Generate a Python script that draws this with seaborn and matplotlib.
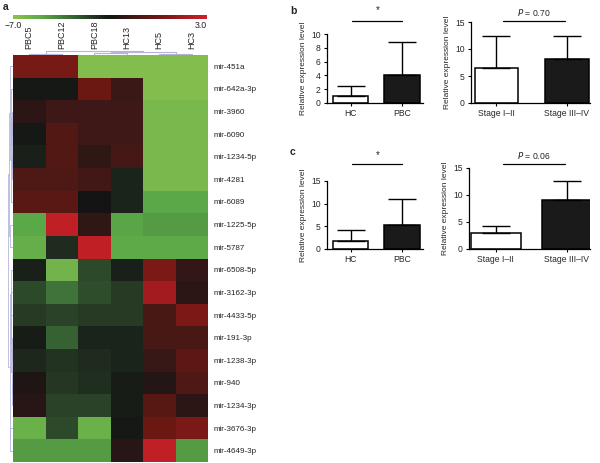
import numpy as np
import pandas as pd
import matplotlib
matplotlib.use("Agg")
import matplotlib.pyplot as plt
import seaborn as sns
from matplotlib.colors import LinearSegmentedColormap
from matplotlib import transforms

sns.set_theme(style="white")
plt.rcParams['font.family'] = ['Liberation Sans', 'DejaVu Sans']

# ---------------- data ----------------
samples = ["PBC5", "PBC12", "PBC18", "HC13", "HC5", "HC3"]
mirnas = ["mir-451a", "mir-642a-3p", "mir-3960", "mir-6090", "mir-1234-5p",
          "mir-4281", "mir-6089", "mir-1225-5p", "mir-5787", "mir-6508-5p",
          "mir-3162-3p", "mir-4433-5p", "mir-191-3p", "mir-1238-3p", "mir-940",
          "mir-1234-3p", "mir-3676-3p", "mir-4649-3p"]
expr = [
    [0.7, 0.7, -6.7, -6.7, -6.7, -6.7],
    [-2.1, -2.1, 0.4, -1.0, -6.7, -6.7],
    [-1.4, -0.9, -0.9, -0.9, -6.4, -6.4],
    [-2.1, -0.3, -0.9, -0.9, -6.4, -6.4],
    [-2.3, -0.3, -1.3, -0.7, -6.4, -6.4],
    [-0.4, -0.4, -0.8, -2.4, -6.4, -6.4],
    [-0.1, -0.1, -2.0, -2.4, -5.5, -5.5],
    [-5.5, 2.6, -1.3, -5.4, -5.2, -5.2],
    [-5.8, -2.6, 2.6, -5.6, -5.6, -5.6],
    [-2.3, -6.2, -3.3, -2.3, 0.8, -1.2],
    [-3.3, -4.2, -3.4, -3.0, 1.8, -1.4],
    [-3.0, -3.2, -3.0, -3.0, -0.6, 0.8],
    [-2.2, -3.8, -2.4, -2.4, -0.6, -0.6],
    [-2.5, -2.8, -2.6, -2.4, -1.1, 0.0],
    [-1.7, -2.9, -2.7, -2.2, -1.6, -0.4],
    [-1.5, -3.2, -3.2, -2.2, -0.2, -1.4],
    [-6.0, -3.3, -6.0, -2.1, 0.4, 0.8],
    [-5.2, -5.2, -5.2, -1.5, 2.6, -5.2],
]
vmin, vmax = -7.0, 3.0

# dendrogram linkages (scipy-style: left id, right id, height)
col_links = [[0, 1, 1.0], [2, 3, 1.2], [4, 5, 0.8], [7, 8, 2.0], [6, 9, 3.0]]
row_links = [[2, 3, 0.5], [4, 5, 0.6], [18, 19, 1.0], [1, 20, 1.4], [6, 21, 1.8],
             [0, 22, 2.4], [7, 8, 2.0], [12, 13, 0.5], [14, 15, 0.6], [25, 26, 0.9],
             [11, 27, 1.2], [10, 28, 1.5], [9, 29, 1.8], [16, 17, 2.0], [30, 31, 2.5],
             [23, 24, 3.0], [32, 33, 3.5]]

grp_b = ["HC", "PBC"]
mean_b = [1.0, 4.1]
err_b = [1.4, 4.7]
stage_b = ["Stage I\u2013II", "Stage III\u2013IV"]
mean_b2 = [6.4, 8.1]
err_b2 = [6.0, 4.4]
p_b2 = "0.70"

grp_c = ["HC", "PBC"]
mean_c = [1.7, 5.3]
err_c = [2.5, 5.8]
stage_c = ["Stage I\u2013II", "Stage III\u2013IV"]
mean_c2 = [2.9, 9.1]
err_c2 = [1.3, 3.4]
p_c2 = "0.06"

# ---------------- figure ----------------
W, H = 600, 463
fig = plt.figure(figsize=(W / 100, H / 100), dpi=100)

def fx(px):
    return px / W

def fy(py):
    return 1 - py / H

cmap = LinearSegmentedColormap.from_list(
    "gbr",
    [(0.0, "#8cc24e"), (0.15, "#5aa848"), (0.3, "#3a6a36"), (0.4, "#263a24"),
     (0.5, "#141414"), (0.6, "#3a1816"), (0.75, "#6e1812"), (1.0, "#d0202a")])

# heatmap
hx0, hx1, hy0, hy1 = 13, 208, 55, 462
axh = fig.add_axes([fx(hx0), fy(hy1), fx(hx1 - hx0), (hy1 - hy0) / H])
df = pd.DataFrame(expr, index=mirnas, columns=samples)
sns.heatmap(df, cmap=cmap, vmin=vmin, vmax=vmax, cbar=False, ax=axh,
            linewidths=0)
axh.yaxis.tick_right()
axh.xaxis.tick_top()
axh.set_yticklabels(mirnas, rotation=0, fontsize=5.8, color="#222222")
axh.set_xticklabels(samples, rotation=90, fontsize=6.5, color="#222222")
axh.tick_params(axis="y", length=0, pad=4)
axh.tick_params(axis="x", length=0, pad=4.5)
axh.set_xlabel("")
axh.set_ylabel("")

# dendrograms
dcol = "#b4b4dc"

def dendro(ax, links, n, orient, lw):
    pos = {i: i + 0.5 for i in range(n)}
    hgt = {i: 0.0 for i in range(n)}
    for k, (a, b, h) in enumerate(links):
        pa, pb = pos[a], pos[b]
        ha, hb = hgt[a], hgt[b]
        xs = [pa, pa, pb, pb]
        ys = [ha, h, h, hb]
        if orient == "top":
            ax.plot(xs, ys, color=dcol, lw=lw)
        else:
            ax.plot(ys, xs, color=dcol, lw=lw)
        pos[n + k] = (pa + pb) / 2
        hgt[n + k] = h

axd = fig.add_axes([fx(hx0), fy(hy0), fx(hx1 - hx0), 5 / H])
dendro(axd, col_links, len(samples), "top", 0.8)
axd.set_xlim(0, len(samples))
axd.set_ylim(0, 3.6)
axd.axis("off")

axr = fig.add_axes([fx(8), fy(hy1), fx(5), (hy1 - hy0) / H])
dendro(axr, row_links, len(mirnas), "left", 0.6)
axr.set_ylim(len(mirnas), 0)
axr.set_xlim(3.8, 0)
axr.axis("off")

# colorbar
axc = fig.add_axes([fx(13), fy(19), fx(194), 4.5 / H])
grad = np.linspace(vmin, vmax, 256)[None, :]
axc.imshow(grad, cmap=cmap, vmin=vmin, vmax=vmax, aspect="auto",
           extent=[vmin, vmax, 0, 1])
axc.set_xticks([])
axc.set_yticks([])
for s in axc.spines.values():
    s.set_visible(False)
axc.text(0.0, -0.5, "\u22127.0", transform=axc.transAxes, ha="center",
         va="top", fontsize=6.3, color="#222222")
axc.text(0.97, -0.5, "3.0", transform=axc.transAxes, ha="center",
         va="top", fontsize=6.3, color="#222222")

fig.text(fx(3), fy(2), "a", fontsize=7.5, fontweight="bold", va="top")
fig.text(fx(290), fy(6), "b", fontsize=7.5, fontweight="bold", va="top")
fig.text(fx(290), fy(147), "c", fontsize=7.5, fontweight="bold", va="top")


def bar_panel(rect, cats, vals, errs, ymax, yticks, width, xlim, sig, sig_y,
              txt_y, sig_x):
    ax = fig.add_axes(rect)
    sns.barplot(x=cats, y=vals, hue=cats, palette=["white", "#1a1a1a"],
                legend=False, edgecolor="black", linewidth=1.1, width=width,
                ax=ax, order=cats, hue_order=cats)
    ax.errorbar(np.arange(len(cats)), vals,
                yerr=[np.zeros(len(vals)), errs], fmt="none", ecolor="black",
                elinewidth=1.0, capsize=10, capthick=1.0, zorder=1)
    ax.set_ylim(0, ymax)
    ax.set_xlim(*xlim)
    ax.set_yticks(yticks)
    sns.despine(ax=ax)
    for s in ["left", "bottom"]:
        ax.spines[s].set_linewidth(0.9)
        ax.spines[s].set_color("black")
    ax.tick_params(axis="both", length=2.5, width=0.8, labelsize=6.2,
                   color="black", pad=2, left=True, bottom=True)
    ax.set_ylabel("Relative expression level", fontsize=6.0, labelpad=3)
    tr = transforms.blended_transform_factory(ax.transData, ax.transAxes)
    ax.plot(sig_x, [sig_y, sig_y], color="black", lw=0.9, transform=tr,
            clip_on=False)
    if sig == "*":
        ax.text(sum(sig_x) / 2, txt_y, "*", transform=tr, ha="center",
                va="center", fontsize=7)
    else:
        ax.text(sum(sig_x) / 2, txt_y, "$P$ = " + sig, transform=tr,
                ha="center", va="center", fontsize=6.2)
    return ax

# b panels
bar_panel([fx(327), fy(103), fx(96), 69 / H], grp_b, mean_b, err_b, 10,
          [0, 2, 4, 6, 8, 10], 0.69, (-0.46, 1.41), "*", 1.19, 1.34, [0.03, 1.01])
bar_panel([fx(471), fy(103), fx(119), 81 / H], stage_b, mean_b2, err_b2, 15,
          [0, 5, 10, 15], 0.62, (-0.36, 1.33), p_b2, 1.01, 1.12, [0.1, 0.97])
# c panels
bar_panel([fx(327), fy(249), fx(96), 68 / H], grp_c, mean_c, err_c, 15,
          [0, 5, 10, 15], 0.69, (-0.46, 1.41), "*", 1.25, 1.38, [0.03, 1.01])
bar_panel([fx(469), fy(249), fx(121), 81 / H], stage_c, mean_c2, err_c2, 15,
          [0, 5, 10, 15], 0.7, (-0.38, 1.33), p_c2, 1.05, 1.15, [0.1, 0.97])

fig.savefig("out.png", dpi=100)
